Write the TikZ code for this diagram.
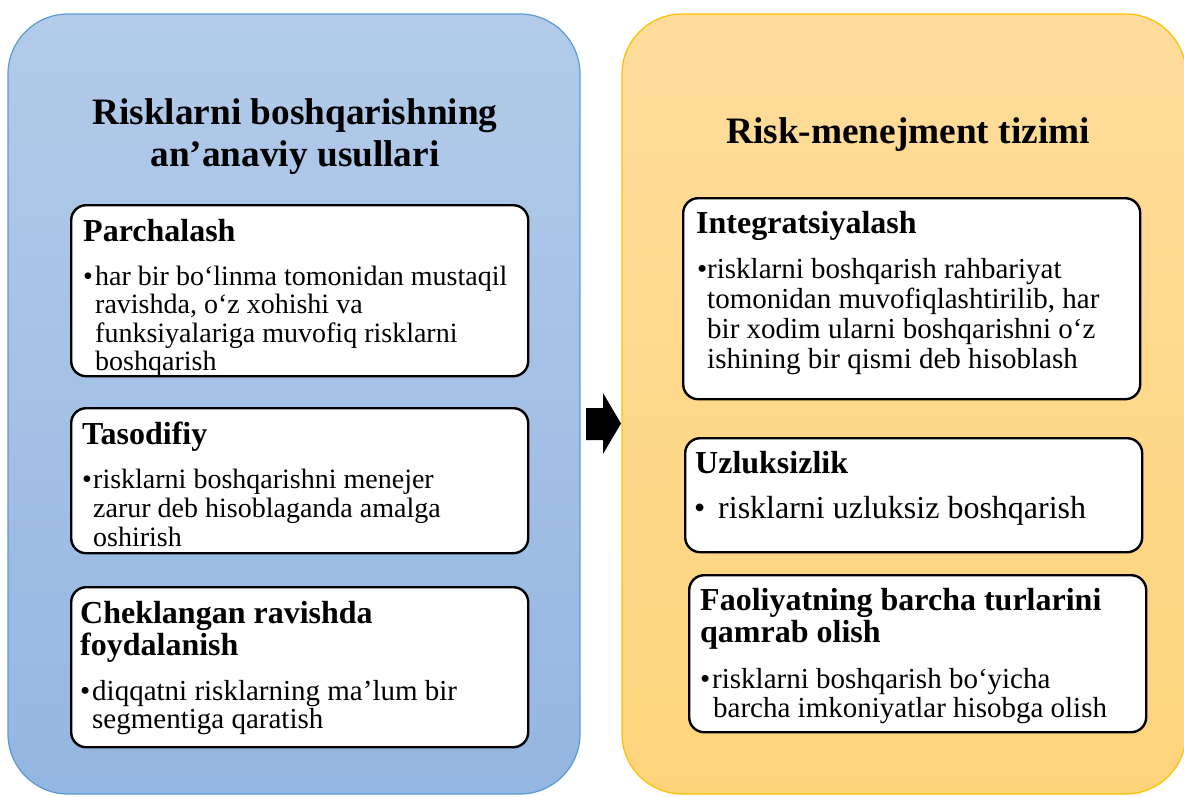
\documentclass[tikz,border=0pt]{standalone}
\usepackage{fontspec}
\setmainfont{Liberation Serif}
\definecolor{bluetop}{HTML}{B3CBE9}
\definecolor{bluebot}{HTML}{94B6E2}
\definecolor{blueline}{HTML}{5B9BD5}
\definecolor{goldtop}{HTML}{FEDC9B}
\definecolor{goldbot}{HTML}{FED47B}
\definecolor{goldline}{HTML}{FFC000}
\begin{document}
\begin{tikzpicture}[x=1pt,y=-1pt,
  panel/.style={rounded corners=60pt, line width=1.2pt, minimum height=780pt, inner sep=0pt},
  card/.style={draw=black, line width=2.4pt, fill=white, rounded corners=15pt, anchor=north west, inner sep=0pt},
  ttl/.style={font=\fontsize{37.3}{42}\selectfont\bfseries, anchor=base, inner sep=0pt},
  hd/.style={font=\fontsize{32}{34}\selectfont\bfseries, anchor=base west, inner sep=0pt},
  txt/.style={font=\fontsize{#1}{#1}\selectfont, anchor=base west, inner sep=0pt},
]
\useasboundingbox (0,0) rectangle (1184,796);

% two background panels
\node[panel, draw=blueline, top color=bluetop, bottom color=bluebot, minimum width=572pt] (lp) at (294,404) {};
\node[panel, draw=goldline, top color=goldtop, bottom color=goldbot, minimum width=564pt] (rp) at (904,404) {};

% block arrow between the panels
\fill[black] (586,408) -- (603,408) -- (603,393) -- (621,423.5) -- (603,454) -- (603,440) -- (586,440) -- cycle;

% panel titles
\node[ttl] (lt1) at (295,124) {Risklarni boshqarishning};
\node[ttl] (lt2) at (295,166) {an’anaviy usullari};
\node[ttl] (rt) at (908,143) {Risk-menejment tizimi};

% left cards
\node[card, minimum width=457pt, minimum height=171pt] (c1) at (70,204) {};
\node[card, minimum width=457pt, minimum height=145pt] (c2) at (70,407) {};
\node[card, minimum width=457pt, minimum height=160pt] (c3) at (70,586) {};

% right cards
\node[card, minimum width=457pt, minimum height=201pt] (c4) at (682,197) {};
\node[card, minimum width=457pt, minimum height=114pt] (c5) at (684,437) {};
\node[card, minimum width=457pt, minimum height=157pt] (c6) at (688,574) {};

% card 1
\node[hd] (h1) at (83,241) {Parchalash};
\node[txt=28] (d1) at (83,285) {•};
\node[txt=28] (t11) at (95,285) {har bir bo‘linma tomonidan mustaqil};
\node[txt=28] (t12) at (95,313) {ravishda, o‘z xohishi va};
\node[txt=28] (t13) at (95,342) {funksiyalariga muvofiq risklarni};
\node[txt=28] (t14) at (95,370) {boshqarish};

% card 2
\node[hd] (h2) at (82,444) {Tasodifiy};
\node[txt=28] (d2) at (82,488) {•};
\node[txt=28] (t21) at (93,488) {risklarni boshqarishni menejer};
\node[txt=28] (t22) at (93,517) {zarur deb hisoblaganda amalga};
\node[txt=28] (t23) at (93,546) {oshirish};

% card 3
\node[hd] (h3a) at (80,623) {Cheklangan ravishda};
\node[hd] (h3b) at (80,655) {foydalanish};
\node[txt=29] (d3) at (80,700) {•};
\node[txt=29] (t31) at (92,700) {diqqatni risklarning ma’lum bir};
\node[txt=29] (t32) at (92,728) {segmentiga qaratish};

% card 4
\node[hd] (h4) at (696,233) {Integratsiyalash};
\node[txt=29] (d4) at (697,278) {•};
\node[txt=29] (t41) at (707,278) {risklarni boshqarish rahbariyat};
\node[txt=29] (t42) at (707,308) {tomonidan muvofiqlashtirilib, har};
\node[txt=29] (t43) at (707,338) {bir xodim ularni boshqarishni o‘z};
\node[txt=29] (t44) at (707,368) {ishining bir qismi deb hisoblash};

% card 5
\node[hd] (h5) at (695,473) {Uzluksizlik};
\node[txt=32] (d5) at (694,518) {•};
\node[txt=32] (t51) at (718,518) {risklarni uzluksiz boshqarish};

% card 6
\node[hd] (h6a) at (700,610) {Faoliyatning barcha turlarini};
\node[hd] (h6b) at (700,642) {qamrab olish};
\node[txt=29] (d6) at (700,688) {•};
\node[txt=29] (t61) at (712,688) {risklarni boshqarish bo‘yicha};
\node[txt=29] (t62) at (713,717) {barcha imkoniyatlar hisobga olish};
\end{tikzpicture}
\end{document}
